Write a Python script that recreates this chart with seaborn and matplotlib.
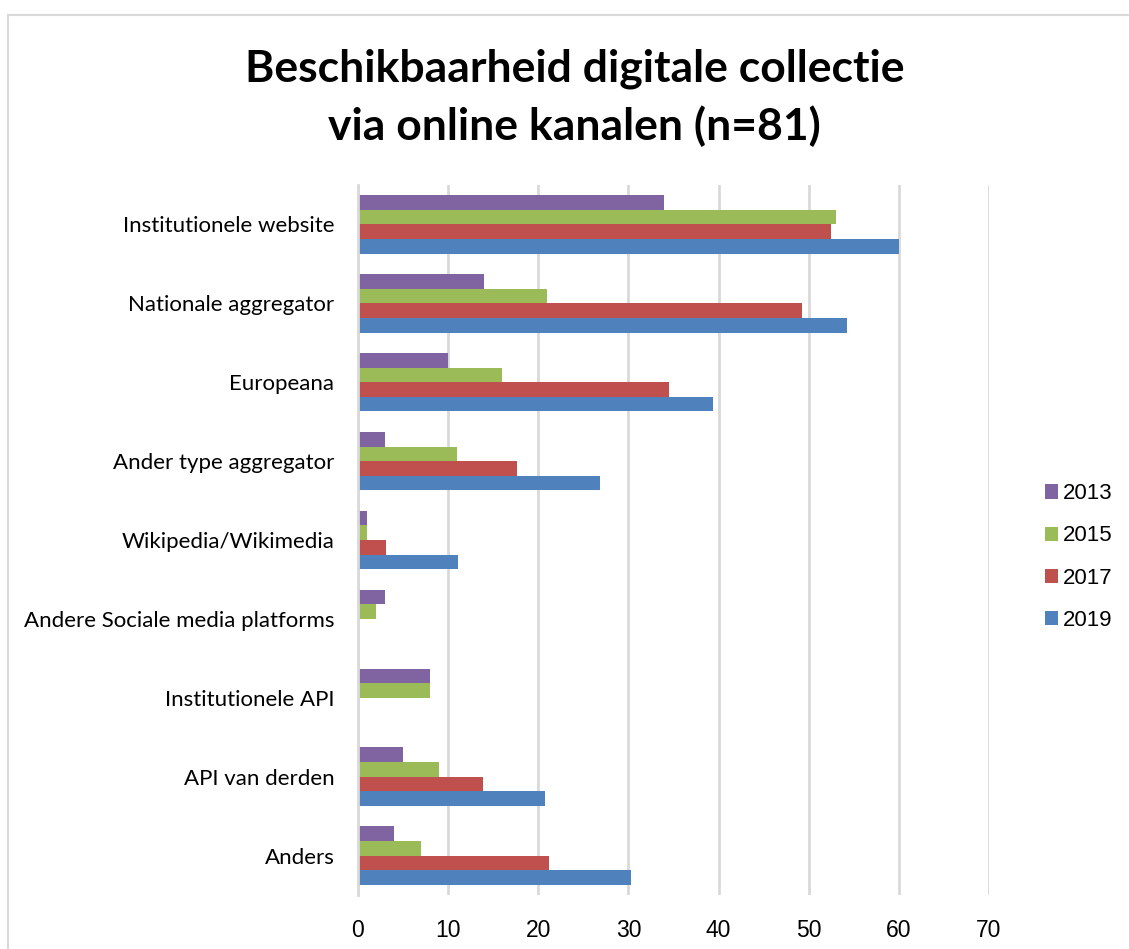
import numpy as np
import pandas as pd
import seaborn as sns
import matplotlib.pyplot as plt
from matplotlib.patches import Rectangle

# Data
categories = [
    'Institutionele website',
    'Nationale aggregator',
    'Europeana',
    'Ander type aggregator',
    'Wikipedia/Wikimedia',
    'Andere Sociale media platforms',
    'Institutionele API',
    'API van derden',
    'Anders',
]
years = ['2013', '2015', '2017', '2019']
values_2013 = [34, 14, 10, 3, 1, 3, 8, 5, 4]
values_2015 = [53, 21, 16, 11, 1, 2, 8, 9, 7]
values_2017 = [52.5, 49.3, 34.5, 17.6, 3.1, np.nan, np.nan, 13.9, 21.2]
values_2019 = [60, 54.2, 39.4, 26.9, 11.1, np.nan, np.nan, 20.8, 30.3]
colors = ['#8064A2', '#9BBB59', '#C0504D', '#4F81BD']

# Long format table for seaborn
df = pd.DataFrame({
    'kanaal': categories * 4,
    'jaar': np.repeat(years, len(categories)),
    'waarde': values_2013 + values_2015 + values_2017 + values_2019,
})

sns.set_style('white')
plt.rcParams['font.family'] = ['Liberation Sans', 'DejaVu Sans']
plt.rcParams['text.color'] = 'black'
plt.rcParams['xtick.labelcolor'] = 'black'
plt.rcParams['ytick.labelcolor'] = 'black'

fig = plt.figure(figsize=(11.29, 9.49), dpi=100)
ax = fig.add_axes([358 / 1129, 54 / 949, 631 / 1129, 710 / 949])

sns.barplot(data=df, y='kanaal', x='waarde', hue='jaar', hue_order=years,
            order=categories, palette=colors, saturation=1, orient='h',
            width=0.74, gap=0, errorbar=None, linewidth=0, ax=ax)

# Axes styling
ax.set_xlim(0, 70)
ax.set_ylim(8.5, -0.5)
ax.set_xticks(range(0, 71, 10))
ax.grid(axis='x', color='#d9d9d9', linewidth=2)
ax.set_axisbelow(True)
for side in ['top', 'right', 'bottom']:
    ax.spines[side].set_visible(False)
ax.spines['left'].set_color('#d9d9d9')
ax.spines['left'].set_linewidth(2)
ax.tick_params(axis='x', length=7, width=2, color='#d9d9d9', pad=10, labelsize=16.5)
ax.tick_params(axis='y', length=0, pad=17)
for lbl in ax.get_yticklabels():
    lbl.set_family(['Lato', 'DejaVu Sans'])
    lbl.set_fontsize(16)
ax.set_xlabel('')
ax.set_ylabel('')

# Legend
handles, labels = ax.get_legend_handles_labels()
ax.legend(handles, labels, loc='center left', bbox_to_anchor=(1025 / 1129, 392 / 949),
          bbox_transform=fig.transFigure, frameon=False, fontsize=16,
          handlelength=0.6, handleheight=0.6, handletextpad=0.2, labelspacing=0.95)

# Title
fig.text(0.509, 0.897, 'Beschikbaarheid digitale collectie\nvia online kanalen (n=81)',
         ha='center', va='center', fontsize=32, fontweight='bold',
         family=['Lato', 'DejaVu Sans'], linespacing=1.48)

# Chart border
fig.patches.append(Rectangle((8 / 1129, -0.05), 1.2, (949 - 15) / 949 + 0.05,
                             transform=fig.transFigure, fill=False,
                             edgecolor='#d9d9d9', linewidth=1.5))

fig.savefig('out.png', dpi=100)
